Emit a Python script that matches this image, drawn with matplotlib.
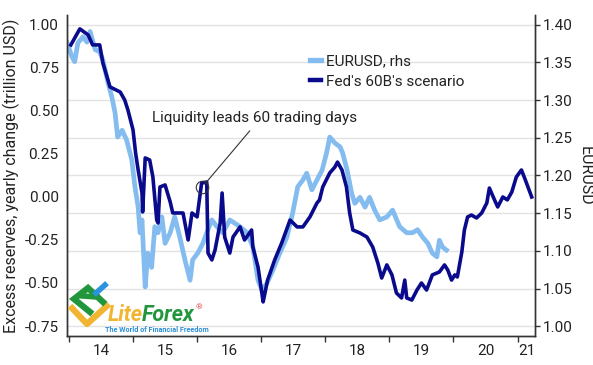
import matplotlib
matplotlib.use("Agg")
import matplotlib.pyplot as plt
from matplotlib.lines import Line2D
from matplotlib.ticker import FixedLocator, NullFormatter, FixedFormatter

plt.rcParams["font.family"] = ["Roboto", "DejaVu Sans"]

# Fed's 60B scenario (left axis, trillion USD), decimal years
fed_year = [2014.03, 2014.17, 2014.30, 2014.37, 2014.48, 2014.53, 2014.64, 2014.80, 2014.87, 2014.92,
            2015.00, 2015.04, 2015.08, 2015.14, 2015.15, 2015.19, 2015.26, 2015.31, 2015.37, 2015.39,
            2015.42, 2015.50, 2015.58, 2015.62, 2015.70, 2015.78, 2015.86, 2015.92, 2016.00, 2016.07,
            2016.15, 2016.17, 2016.23, 2016.28, 2016.36, 2016.39, 2016.43, 2016.51, 2016.56, 2016.67,
            2016.74, 2016.85, 2016.87, 2016.95, 2017.01, 2017.03, 2017.10, 2017.21, 2017.32, 2017.45,
            2017.56, 2017.65, 2017.76, 2017.87, 2017.91, 2017.96, 2018.07, 2018.15, 2018.19, 2018.26,
            2018.33, 2018.38, 2018.43, 2018.54, 2018.65, 2018.74, 2018.82, 2018.88, 2018.96, 2019.04,
            2019.11, 2019.19, 2019.24, 2019.27, 2019.35, 2019.43, 2019.50, 2019.58, 2019.67, 2019.78,
            2019.86, 2019.91, 2019.97, 2020.02, 2020.06, 2020.13, 2020.17, 2020.22, 2020.28, 2020.36,
            2020.44, 2020.52, 2020.56, 2020.64, 2020.69, 2020.77, 2020.84, 2020.91, 2020.98, 2021.06,
            2021.11, 2021.22]
fed_val = [0.884, 0.977, 0.942, 0.884, 0.884, 0.779, 0.640, 0.610, 0.564, 0.506,
           0.390, 0.256, 0.157, 0.023, -0.087, 0.227, 0.215, 0.116, -0.134, -0.151,
           0.058, 0.070, -0.029, -0.093, -0.093, -0.093, -0.250, -0.093, -0.116, 0.081,
           0.087, -0.326, -0.366, -0.308, -0.151, 0.023, -0.233, -0.326, -0.233, -0.174,
           -0.250, -0.192, -0.291, -0.407, -0.558, -0.610, -0.483, -0.366, -0.267, -0.134,
           -0.174, -0.174, -0.116, -0.035, -0.017, 0.058, 0.140, 0.174, 0.203, 0.157,
           0.058, -0.093, -0.192, -0.209, -0.233, -0.291, -0.384, -0.471, -0.395, -0.453,
           -0.558, -0.587, -0.483, -0.587, -0.599, -0.541, -0.500, -0.541, -0.453, -0.436,
           -0.395, -0.424, -0.483, -0.453, -0.465, -0.320, -0.192, -0.116, -0.105, -0.122,
           -0.093, -0.035, 0.052, -0.017, -0.058, 0.000, -0.017, 0.029, 0.116, 0.157,
           0.110, 0.000]

# EURUSD (right axis)
eur_year = [2013.97, 2014.05, 2014.09, 2014.14, 2014.22, 2014.28, 2014.33, 2014.41, 2014.48, 2014.53,
            2014.61, 2014.67, 2014.72, 2014.76, 2014.83, 2014.90, 2014.98, 2015.03, 2015.08, 2015.11,
            2015.14, 2015.19, 2015.23, 2015.29, 2015.34, 2015.39, 2015.45, 2015.50, 2015.58, 2015.65,
            2015.73, 2015.81, 2015.89, 2015.93, 2016.01, 2016.09, 2016.15, 2016.23, 2016.31, 2016.40,
            2016.51, 2016.67, 2016.78, 2016.87, 2016.95, 2017.01, 2017.09, 2017.18, 2017.29, 2017.40,
            2017.49, 2017.57, 2017.65, 2017.71, 2017.79, 2017.87, 2017.95, 2018.02, 2018.07, 2018.15,
            2018.23, 2018.27, 2018.34, 2018.41, 2018.46, 2018.54, 2018.62, 2018.69, 2018.77, 2018.85,
            2018.96, 2019.05, 2019.16, 2019.27, 2019.36, 2019.44, 2019.52, 2019.60, 2019.67, 2019.74,
            2019.78, 2019.83, 2019.89]
eur_val = [1.376, 1.357, 1.351, 1.376, 1.384, 1.377, 1.391, 1.367, 1.364, 1.353,
           1.323, 1.304, 1.283, 1.251, 1.260, 1.247, 1.221, 1.185, 1.158, 1.124,
           1.141, 1.052, 1.097, 1.078, 1.132, 1.124, 1.145, 1.110, 1.124, 1.145,
           1.118, 1.088, 1.061, 1.088, 1.097, 1.110, 1.124, 1.141, 1.132, 1.124,
           1.141, 1.132, 1.124, 1.105, 1.061, 1.048, 1.057, 1.074, 1.097, 1.118,
           1.150, 1.185, 1.194, 1.203, 1.181, 1.194, 1.207, 1.230, 1.251, 1.243,
           1.238, 1.230, 1.207, 1.177, 1.163, 1.171, 1.158, 1.171, 1.154, 1.141,
           1.145, 1.154, 1.132, 1.124, 1.124, 1.128, 1.118, 1.110, 1.097, 1.092,
           1.114, 1.105, 1.101]

year_bounds = [2014, 2015, 2016, 2017, 2018, 2019, 2020, 2021]
label_pos = [2014.5, 2015.5, 2016.5, 2017.5, 2018.5, 2019.5, 2020.5, 2021.15]
year_labels = ["14", "15", "16", "17", "18", "19", "20", "21"]
left_ticks = [1.00, 0.75, 0.50, 0.25, 0.00, -0.25, -0.50, -0.75]
right_ticks = [1.40, 1.35, 1.30, 1.25, 1.20, 1.15, 1.10, 1.05, 1.00]

dark = "#0a0a8c"
light = "#85bcf0"
txt = "#222222"
spine_c = "#333333"
fs = 11

fig = plt.figure(figsize=(5.93, 3.65), dpi=100)
ax = fig.add_axes([0.113, 0.0795, 0.789, 0.8795])
ax2 = ax.twinx()

ax.set_xlim(2013.97, 2021.27)
ax.set_ylim(-0.808, 1.058)
ax2.set_ylim(0.987, 1.413)

# grid on the right axis so that it sits under both lines
ax2.set_yticks(right_ticks)
ax2.yaxis.grid(True, color="#e3e3e3", lw=1.0, zorder=0)
ax2.set_axisbelow(True)
ax2.plot(eur_year, eur_val, color=light, lw=3.4, solid_joinstyle="round", zorder=2)

ax.set_zorder(ax2.get_zorder() + 1)
ax.patch.set_visible(False)
ax.plot(fed_year, fed_val, color=dark, lw=2.6, solid_joinstyle="round", zorder=3)

ax.set_yticks(left_ticks)
ax.set_yticklabels(["%.2f" % t for t in left_ticks])
ax2.set_yticklabels(["%.2f" % t for t in right_ticks])

ax.xaxis.set_major_locator(FixedLocator(year_bounds))
ax.xaxis.set_major_formatter(NullFormatter())
ax.xaxis.set_minor_locator(FixedLocator(label_pos))
ax.xaxis.set_minor_formatter(FixedFormatter(year_labels))
ax.tick_params(axis="x", which="major", length=4, width=1, color=spine_c)
ax.tick_params(axis="x", which="minor", length=0, pad=6, labelsize=fs, labelcolor=txt)
ax.tick_params(axis="y", length=0, pad=6, labelsize=fs, labelcolor=txt)
ax2.tick_params(axis="y", length=3.5, width=1, pad=2.5, labelsize=fs, labelcolor=txt, color=spine_c)

for a in (ax, ax2):
    a.spines["top"].set_visible(False)
    for s in ("left", "right", "bottom"):
        a.spines[s].set_color(spine_c)
        a.spines[s].set_linewidth(1.0)

ax.set_ylabel("Excess reserves, yearly change (trillion USD)", fontsize=11.5, color=txt, labelpad=3)
ax2.set_ylabel("EURUSD", fontsize=11.5, color=txt, rotation=270, labelpad=14)

handles = [Line2D([], [], color=light, lw=3.8), Line2D([], [], color=dark, lw=3.2)]
ax.legend(handles, ["EURUSD, rhs", "Fed's 60B's scenario"], loc="upper left",
          bbox_to_anchor=(0.49, 0.92), frameon=False, fontsize=fs,
          handlelength=0.75, handletextpad=0.3, labelspacing=0.4, labelcolor=txt)

# annotation
ax.plot([2016.07], [0.06], marker="o", ms=9, mfc="none", mec="#333333", mew=0.8, zorder=4)
ax.annotate("Liquidity leads 60 trading days", xy=(2016.12, 0.075), xytext=(2015.3, 0.46),
            fontsize=fs, color=txt, ha="left", va="center",
            arrowprops=dict(arrowstyle="-", color="#333333", lw=0.8,
                            relpos=(0.5, 0.0), shrinkA=3, shrinkB=0))

# LiteForex watermark
W, H = 593.0, 365.0
def fx(px, py):
    return px / W, 1 - py / H
yel = [fx(70, 306), fx(87, 324), fx(109, 304)]
fig.add_artist(Line2D([p[0] for p in yel], [p[1] for p in yel], color="#f2b531", lw=4.5,
                      solid_capstyle="butt"))
grn = [fx(90, 312), fx(74, 299), fx(88, 288), fx(103, 302)]
fig.add_artist(Line2D([p[0] for p in grn], [p[1] for p in grn], color="#21963c", lw=4.5,
                      solid_joinstyle="miter"))
grn2 = [fx(83, 296), fx(97, 297)]
fig.add_artist(Line2D([p[0] for p in grn2], [p[1] for p in grn2], color="#21963c", lw=4.0))
blu = [fx(96, 293), fx(105, 285)]
fig.add_artist(Line2D([p[0] for p in blu], [p[1] for p in blu], color="#2b93e0", lw=4.0))
t1 = fig.text(108 / W, 1 - 321 / H, "Lite", fontsize=15.5, fontweight="bold", style="italic",
              color="#f2b531", ha="left", va="baseline")
r = fig.canvas.get_renderer()
bb = t1.get_window_extent(renderer=r)
t2 = fig.text(bb.x1 / W - 0.002, 1 - 321 / H, "Forex", fontsize=15.5, fontweight="bold", style="italic",
              color="#21963c", ha="left", va="baseline")
bb2 = t2.get_window_extent(renderer=r)
fig.text(bb2.x1 / W + 0.002, 1 - 307 / H, "®", fontsize=6, color="#e0504a", ha="left", va="center")
fig.text(157 / W, 1 - 329.5 / H, "The World of Financial Freedom", fontsize=5.2, fontweight="bold",
         color="#2b8fd8", ha="center", va="center")

fig.savefig("out.png", dpi=100)
